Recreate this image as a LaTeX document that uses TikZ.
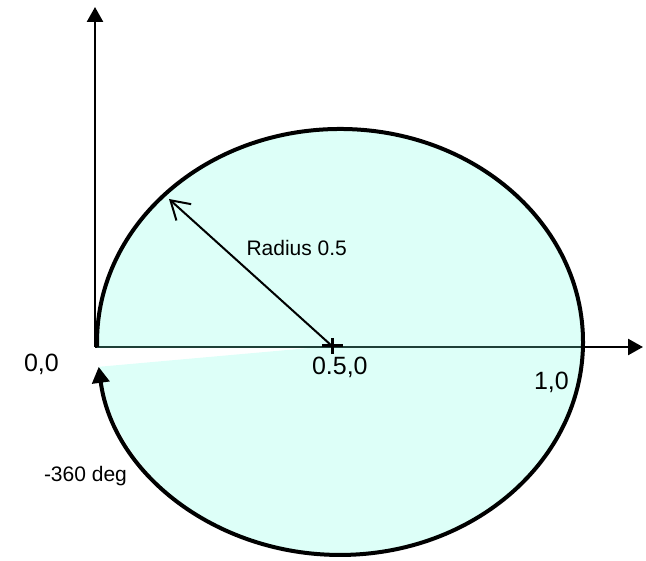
\documentclass[tikz,border=0pt]{standalone}
\usepackage{fontspec}
\setmainfont{Liberation Sans}
\usetikzlibrary{arrows.meta,calc}
\definecolor{fillc}{RGB}{221,255,248}
\definecolor{axin}{RGB}{30,64,56}
\begin{document}
\begin{tikzpicture}[x=1pt,y=-1pt,
  axis/.style={line width=2.6pt,-{Triangle[length=15pt,width=16pt]}},
  ell/.style={line width=4pt,-{Triangle[length=16pt,width=17pt]}},
  rad/.style={line width=2pt,-{Straight Barb[length=18pt,width=22pt]}},
  lbl/.style={anchor=base west,inner sep=0pt,outer sep=0pt},
  big/.style={lbl,font=\fontsize{25}{30}\selectfont},
  small/.style={lbl,font=\fontsize{21}{25}\selectfont}]
\useasboundingbox (0,0) rectangle (646,561);
\coordinate (O) at (95,347);
\coordinate (X) at (643,347);
\coordinate (Y) at (95,7);
\coordinate (C) at (332,346);
\coordinate (S) at (97.1,346.8);
\coordinate (R) at (169,199);
\coordinate (XL) at (97,347);
\coordinate (XR) at (583,347);
% fill
\fill[fillc] (C) -- (S) arc[start angle=178.7, end angle=533.3, x radius=243, y radius=213] -- cycle;
% axes
\draw[axis] (O) -- (X);
\draw[axis] (O) -- (Y);
\draw[axin,line width=2.6pt] (XL) -- (XR);
% ellipse arc
\draw[ell] (S) arc[start angle=178.7, end angle=533.3, x radius=243, y radius=213];
% radius
\draw[rad] (C) -- (R);
% cross
\draw[line width=3pt] ($(C)+(-10,0)$) -- ($(C)+(11,0)$);
\draw[line width=3pt] ($(C)+(0,-8)$) -- ($(C)+(0,8)$);
% labels
\node[big] (l00) at (24,372) {0,0};
\node[big] (l050) at (312,375) {0.5,0};
\node[big] (l10) at (534,390) {1,0};
\node[small] (lrad) at (246.5,256) {Radius 0.5};
\node[small] (ldeg) at (44,482) {-360 deg};
\end{tikzpicture}
\end{document}
